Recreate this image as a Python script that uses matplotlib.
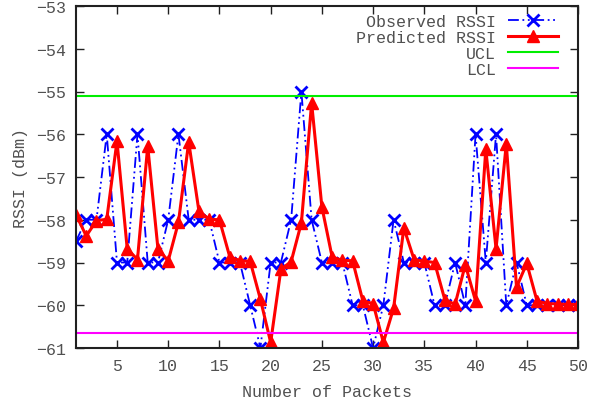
import matplotlib
matplotlib.use("Agg")
import matplotlib.pyplot as plt
import numpy as np

packets = list(range(1, 51))
observed = [-58.5, -58, -58, -56, -59, -59, -56, -59, -59, -58,
            -56, -58, -58, -58, -59, -59, -59, -60, -61, -59,
            -59, -58, -55, -58, -59, -59, -59, -60, -60, -61,
            -60, -58, -59, -59, -59, -60, -60, -59, -60, -56,
            -59, -56, -60, -59, -60, -60, -60, -60, -60, -60]
predicted = [-57.88, -58.38, -58.02, -57.99, -56.16, -58.68, -58.93, -56.28, -58.68, -58.96,
             -58.06, -56.18, -57.8, -57.99, -58.0, -58.86, -58.96, -58.97, -59.86, -60.87,
             -59.16, -58.98, -58.07, -55.27, -57.7, -58.87, -58.95, -58.96, -59.9, -59.96,
             -60.87, -60.07, -58.19, -58.93, -58.97, -59.0, -59.87, -59.98, -59.05, -59.9,
             -56.35, -58.68, -56.22, -59.58, -59.02, -59.9, -59.96, -59.97, -59.98, -59.98]
ucl = -55.1
lcl = -60.66

xticks = [5, 10, 15, 20, 25, 30, 35, 40, 45, 50]
yticks = [-61, -60, -59, -58, -57, -56, -55, -54, -53]

plt.rcParams['font.family'] = ['Liberation Mono', 'DejaVu Sans Mono']
plt.rcParams['font.size'] = 12

txt = '#505050'

fig = plt.figure(figsize=(5.9, 4.06), dpi=100)
ax = fig.add_axes([76/590, 57/406, (578-76)/590, (349-7)/406])

ax.plot(packets, observed, color='#0000ff', linestyle=(0, (6, 2, 1, 2, 1, 2)), linewidth=1.3,
        marker='x', markersize=8.5, markeredgewidth=2, label='Observed RSSI')
ax.plot(packets, predicted, color='#ff0000', linestyle='-', linewidth=2.2,
        marker='^', markersize=8, label='Predicted RSSI')
ax.axhline(ucl, color='#00ee00', linewidth=1.5, label='UCL')
ax.axhline(lcl, color='#ff00ff', linewidth=1.5, label='LCL')

ax.set_xlim(1, 50)
ax.set_ylim(-61, -53)
ax.set_xticks(xticks)
ax.set_yticks(yticks)
ax.tick_params(direction='in', top=True, right=True, length=6, width=1,
               colors='#202020', labelcolor=txt, labelsize=12, pad=7)
for s in ax.spines.values():
    s.set_linewidth(1.5)
    s.set_color('#202020')

ax.set_xlabel('Number of Packets', color=txt, fontsize=12, labelpad=8)
ax.set_ylabel('RSSI (dBm)', color=txt, fontsize=12, labelpad=6)

leg = ax.legend(loc='upper right', bbox_to_anchor=(0.96, 0.978), frameon=False,
                markerfirst=False, borderpad=0, borderaxespad=0, labelspacing=0.06,
                handlelength=3.0, handletextpad=0.7, fontsize=12)
for t in leg.get_texts():
    t.set_color(txt)

fig.savefig('out.png', dpi=100)
